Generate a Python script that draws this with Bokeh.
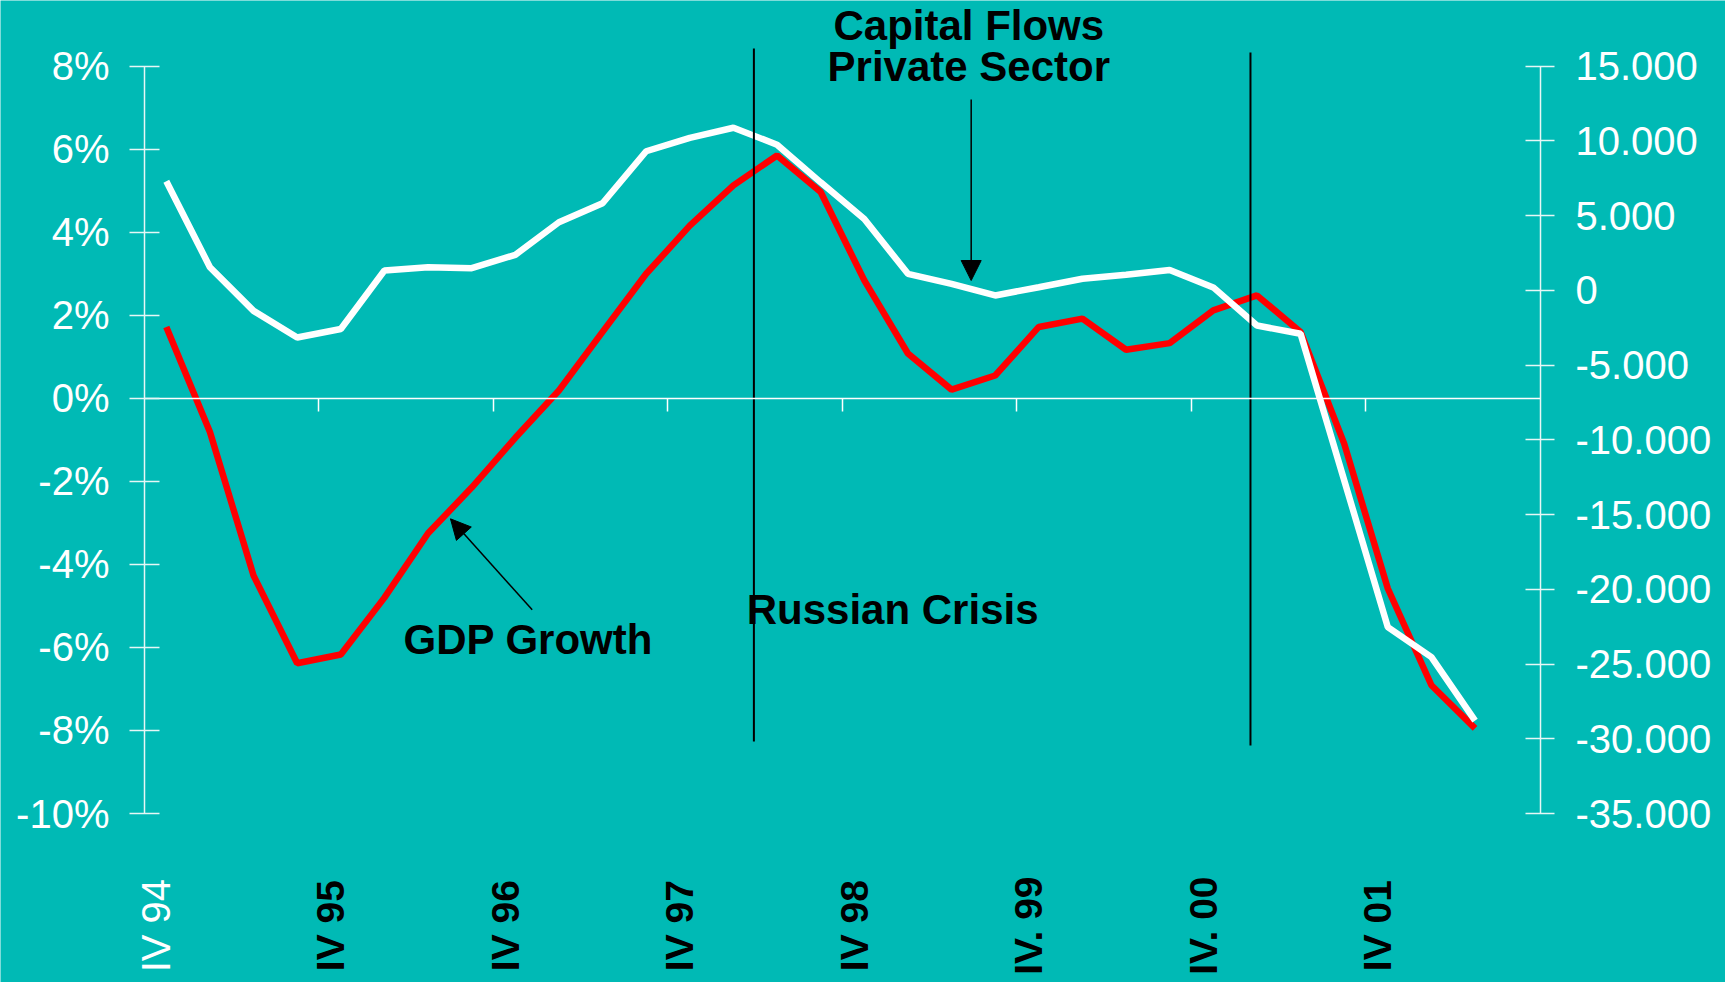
import math
from bokeh.plotting import figure
from bokeh.models import (Range1d, LinearAxis, FixedTicker, ColumnDataSource,
                          Label, Arrow, NormalHead)
from bokeh.core.properties import value
from bokeh.embed import file_html
from bokeh.resources import INLINE

# ---------------- data ----------------
quarters = ["IV 94", "I 95", "II 95", "III 95", "IV 95", "I 96", "II 96", "III 96",
            "IV 96", "I 97", "II 97", "III 97", "IV 97", "I 98", "II 98", "III 98",
            "IV 98", "I 99", "II 99", "III 99", "IV 99", "I 00", "II 00", "III 00",
            "IV 00", "I 01", "II 01", "III 01", "IV 01", "I 02", "II 02"]

gdp_growth = [1.72, -0.81, -4.27, -6.38, -6.17, -4.80, -3.25, -2.15, -0.95, 0.19,
              1.60, 3.00, 4.16, 5.13, 5.85, 4.97, 2.84, 1.08, 0.21, 0.55,
              1.72, 1.92, 1.17, 1.33, 2.12, 2.48, 1.60, -1.09, -4.58, -6.91, -7.95]

capital_flows = [7300, 1550, -1370, -3150, -2580, 1330, 1550, 1490, 2380, 4560,
                 5830, 9310, 10210, 10880, 9750, 7230, 4780, 1110, 440, -340,
                 215, 775, 1040, 1360, 200, -2350, -2900, -12700, -22530, -24540, -28780]

n_categories = 32
tick_every = 4
x_label_quarters = ["IV 94", "IV 95", "IV 96", "IV 97", "IV 98", "IV 99", "IV 00", "IV 01"]
x_tick_labels = ["IV 94", "IV 95", "IV 96", "IV 97", "IV 98", "IV. 99", "IV. 00", "IV 01"]

left_ticks = [-10, -8, -6, -4, -2, 0, 2, 4, 6, 8]
left_tick_labels = ["-10%", "-8%", "-6%", "-4%", "-2%", "0%", "2%", "4%", "6%", "8%"]

right_ticks = [-35000, -30000, -25000, -20000, -15000, -10000, -5000, 0, 5000, 10000, 15000]
right_tick_labels = ["-35.000", "-30.000", "-25.000", "-20.000", "-15.000", "-10.000",
                     "-5.000", "0", "5.000", "10.000", "15.000"]

event_lines_x = [13.969, 25.352]   # the two vertical markers (category units)

# ---------------- styling ----------------
BG = "#00BAB5"
AXIS_COL = "#E6F7F6"
FONT = "Liberation Sans"

W, H = 1725, 982
X_LO, X_HI = -3.3009, 36.241
Y_TOP, Y_BOT = 9.5825, -14.070
R_TOP, R_BOT = 19395.8, -46305.6

p = figure(width=W, height=H, output_backend="svg", toolbar_location=None,
           x_range=Range1d(X_LO, X_HI), y_range=Range1d(Y_BOT, Y_TOP),
           x_axis_location=None, y_axis_location=None,
           min_border_left=0, min_border_right=0, min_border_top=0, min_border_bottom=0,
           background_fill_color=BG, border_fill_color=BG, outline_line_color=None)
p.grid.visible = False
p.extra_y_ranges = {"flows": Range1d(R_BOT, R_TOP)}


def style_axis(ax, tin, tout, standoff):
    ax.axis_line_color = AXIS_COL
    ax.axis_line_width = 1.5
    ax.major_tick_line_color = AXIS_COL
    ax.major_tick_line_width = 1.5
    ax.major_tick_in = tin
    ax.major_tick_out = tout
    ax.minor_tick_line_color = None
    ax.major_label_standoff = standoff
    ax.major_label_text_font = FONT
    ax.major_label_text_font_size = "40px"
    ax.major_label_text_color = "white"


# left axis (percent)
ly = LinearAxis(ticker=FixedTicker(ticks=left_ticks), bounds=(left_ticks[0], left_ticks[-1]),
                fixed_location=0,
                major_label_overrides=dict(zip(left_ticks, left_tick_labels)))
style_axis(ly, 15, 15, 20)
p.add_layout(ly, "left")

# right axis (capital flows)
ry = LinearAxis(y_range_name="flows", ticker=FixedTicker(ticks=right_ticks),
                bounds=(right_ticks[0], right_ticks[-1]), fixed_location=n_categories,
                major_label_overrides=dict(zip(right_ticks, right_tick_labels)))
style_axis(ry, 15, 14, 21)
p.add_layout(ry, "right")

# category axis along 0%
x_ticks = list(range(tick_every, n_categories, tick_every))
xa = LinearAxis(ticker=FixedTicker(ticks=x_ticks), fixed_location=0, bounds=(0, n_categories))
xa.axis_line_color = "white"
xa.axis_line_width = 1.5
xa.major_tick_line_color = "white"
xa.major_tick_line_width = 1.5
xa.major_tick_in = 0
xa.major_tick_out = 13
xa.minor_tick_line_color = None
xa.major_label_text_color = None
p.add_layout(xa, "below")

# series
xs = [i + 0.5 for i in range(len(quarters))]
src = ColumnDataSource(dict(x=xs, gdp=gdp_growth, flows=capital_flows))
p.line("x", "gdp", source=src, line_color="#FF0000", line_width=6.5)
p.line("x", "flows", source=src, y_range_name="flows", line_color="white", line_width=6.5)

# rotated category labels
lab_x = [quarters.index(q) + 0.5 for q in x_label_quarters]
nl = len(lab_x)
lab_src = ColumnDataSource(dict(
    x=lab_x, y=[-12.70] * nl, text=x_tick_labels,
    color=["white"] + ["black"] * (nl - 1),
    style=["normal"] + ["bold"] * (nl - 1),
    size=["40px"] + ["39px"] * (nl - 1)))
p.text("x", "y", text="text", source=lab_src, angle=math.pi / 2,
       text_align="center", text_baseline="middle", x_offset=-10,
       text_font=value(FONT), text_font_size="size",
       text_color="color", text_font_style="style")

# vertical event markers
p.segment(x0=event_lines_x, y0=[8.426, 8.330], x1=event_lines_x, y1=[-8.266, -8.362],
          line_color="black", line_width=2)

# annotations
for txt, x, y, align in [("Capital Flows", 18.895, 8.973, "center"),
                         ("Private Sector", 18.895, 7.993, "center"),
                         ("GDP Growth", 5.937, -5.802, "left"),
                         ("Russian Crisis", 13.805, -5.079, "left")]:
    p.add_layout(Label(x=x, y=y, text=txt, text_align=align, text_baseline="alphabetic",
                       text_font=FONT, text_font_size="42px", text_font_style="bold",
                       text_color="black"))

p.add_layout(Arrow(end=NormalHead(size=20, fill_color="black", line_color="black"),
                   x_start=18.95, y_start=7.198, x_end=18.95, y_end=2.838,
                   line_color="black", line_width=1.5))
p.add_layout(Arrow(end=NormalHead(size=20, fill_color="black", line_color="black"),
                   x_start=8.887, y_start=-5.093, x_end=7.014, y_end=-2.902,
                   line_color="black", line_width=1.5))

open("out.html", "w").write(file_html(p, INLINE))
